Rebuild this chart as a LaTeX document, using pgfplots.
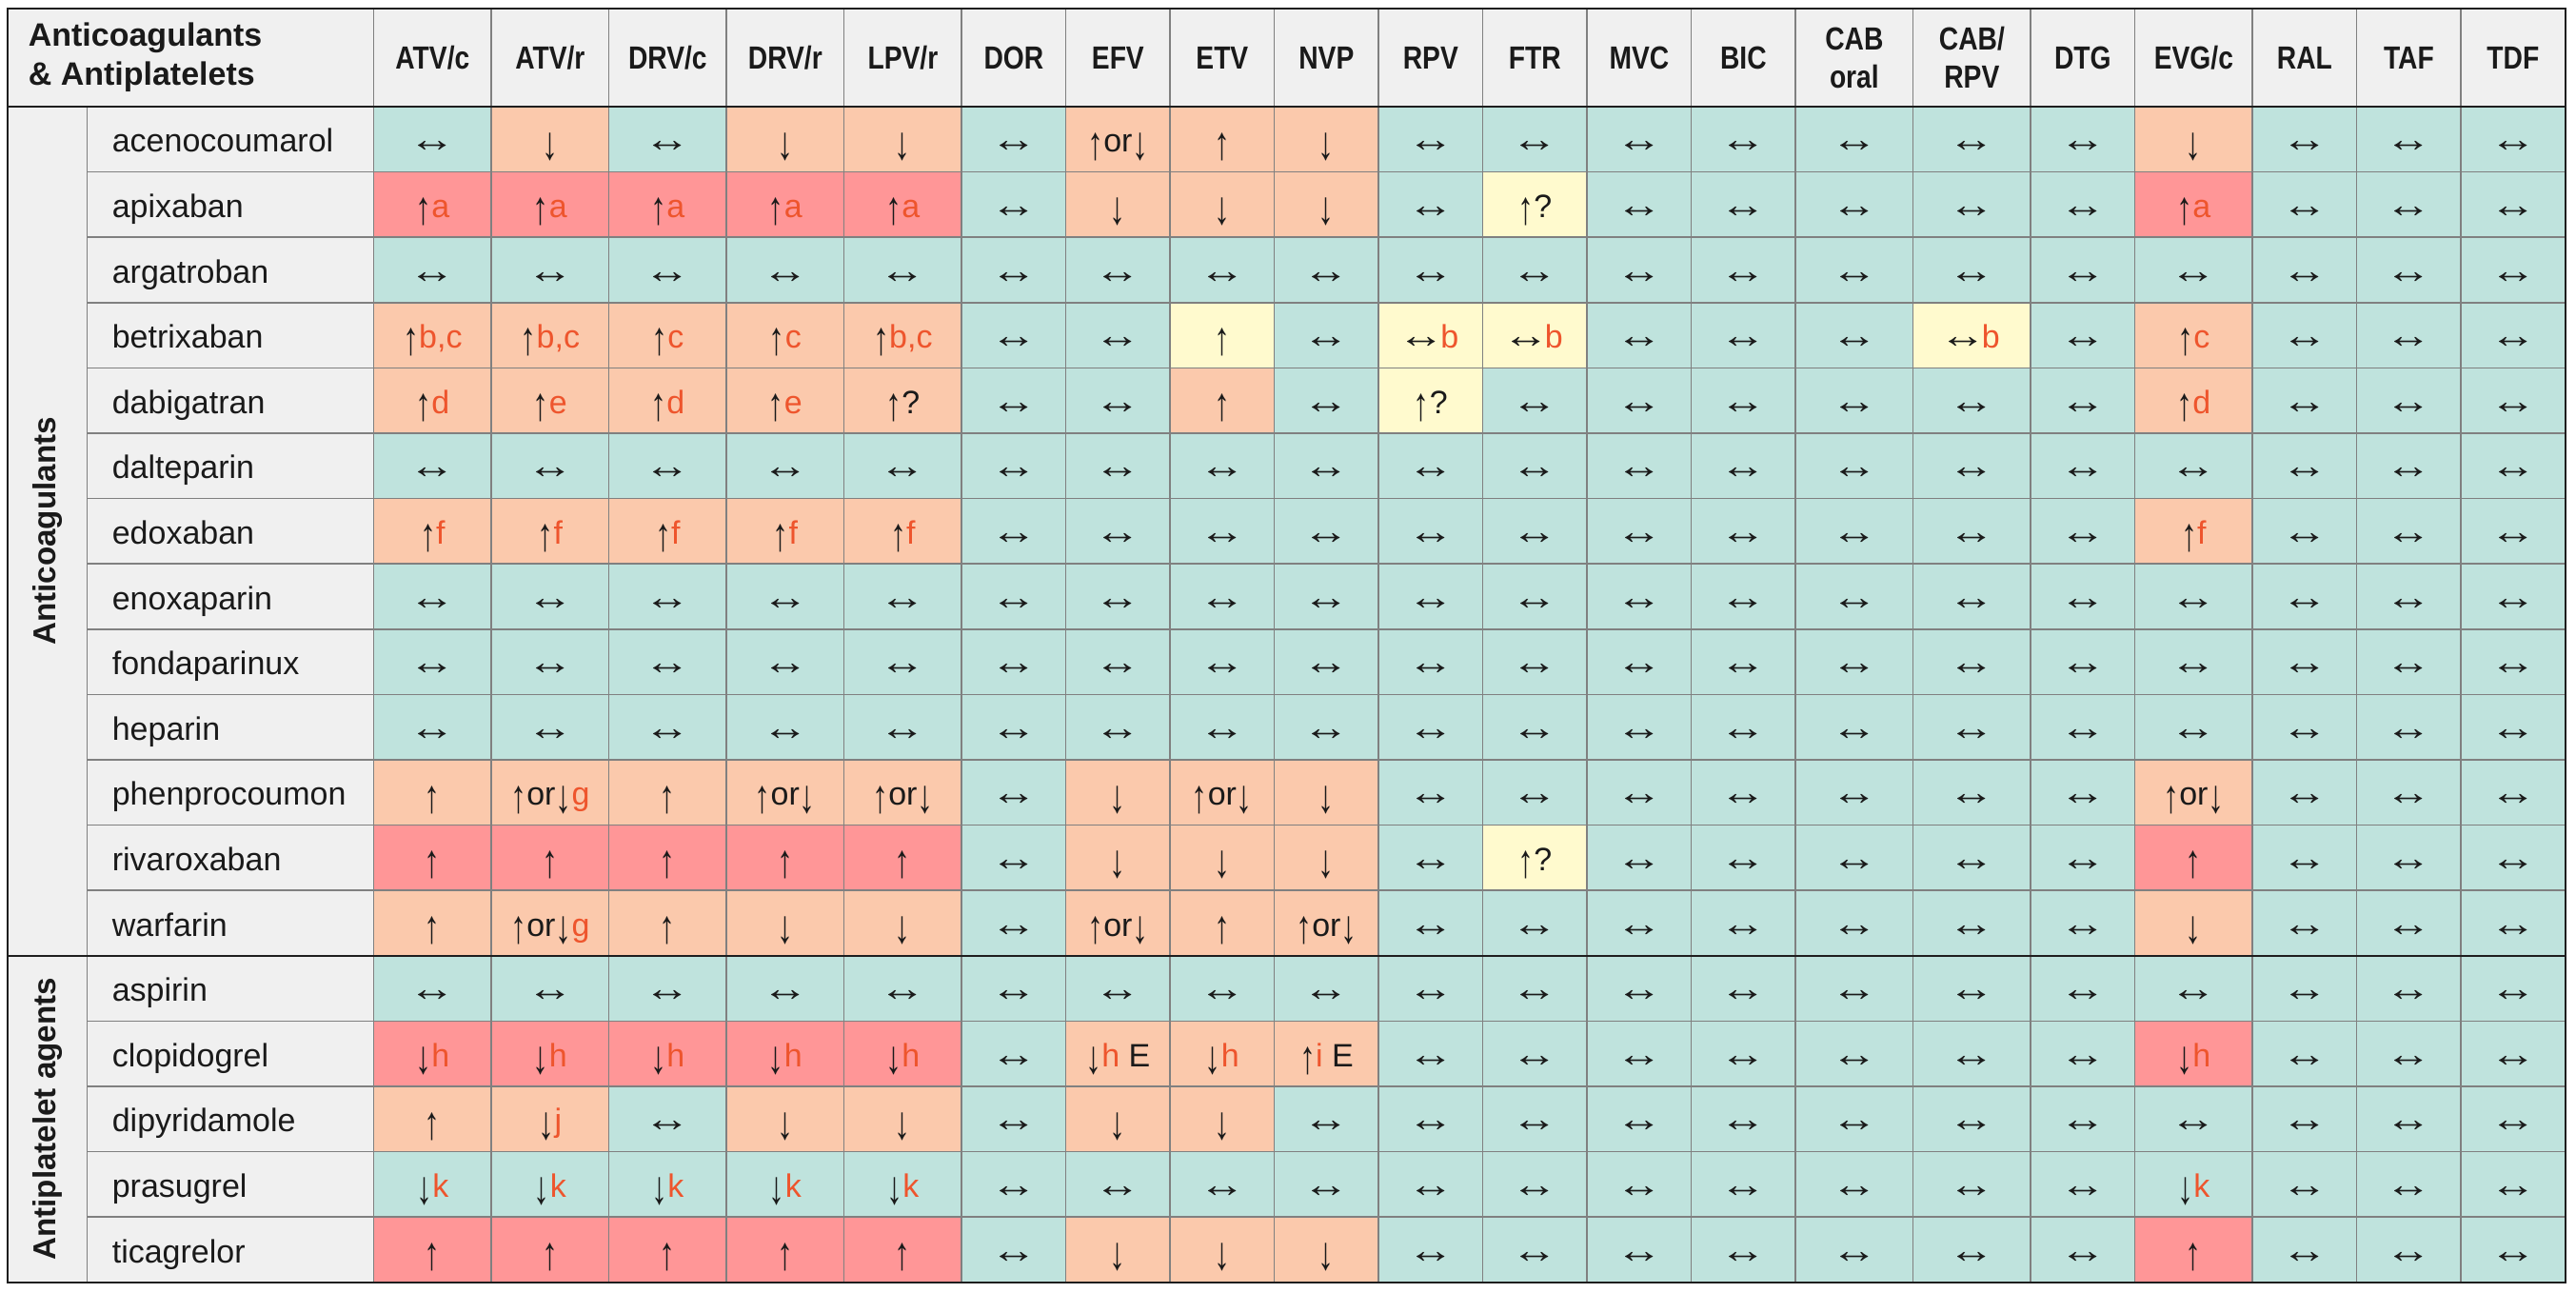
\documentclass[border=0pt]{standalone}
\usepackage{fontspec}
\setmainfont{Liberation Sans}
\newfontfamily\narrowbf{Liberation Sans}[FakeStretch=0.84]
\usepackage{graphicx}
\usepackage{pgfplots}
\usepackage{pgfplotstable}
\pgfplotsset{compat=1.18}

\definecolor{hdr}{RGB}{240,240,240}
\definecolor{gridc}{RGB}{128,128,128}
\definecolor{frame}{RGB}{30,30,30}
\definecolor{txtc}{RGB}{26,26,26}
\definecolor{noteRed}{RGB}{238,85,45}

\protected\def\aLR{\kern-0.14em\scalebox{1.45}[1.15]{↔}\kern-0.14em}
\protected\def\aUp{\raisebox{-0.21em}{\scalebox{1}[1.45]{↑}}}
\protected\def\aDn{\raisebox{-0.21em}{\scalebox{1}[1.45]{↓}}}
\protected\def\aUD{\aUp or\aDn}
\protected\def\rd#1{\textcolor{noteRed}{#1}}
\newcommand\cellfont{\fontsize{8.5}{10}\selectfont}

% cell colour: 0 no interaction, 1 potential, 2 do not coadminister, 3 weak
\pgfplotstableread{
name c0 c1 c2 c3 c4 c5 c6 c7 c8 c9 c10 c11 c12 c13 c14 c15 c16 c17 c18 c19
acenocoumarol 0 1 0 1 1 0 1 1 1 0 0 0 0 0 0 0 1 0 0 0
apixaban      2 2 2 2 2 0 1 1 1 0 3 0 0 0 0 0 2 0 0 0
argatroban    0 0 0 0 0 0 0 0 0 0 0 0 0 0 0 0 0 0 0 0
betrixaban    1 1 1 1 1 0 0 3 0 3 3 0 0 0 3 0 1 0 0 0
dabigatran    1 1 1 1 1 0 0 1 0 3 0 0 0 0 0 0 1 0 0 0
dalteparin    0 0 0 0 0 0 0 0 0 0 0 0 0 0 0 0 0 0 0 0
edoxaban      1 1 1 1 1 0 0 0 0 0 0 0 0 0 0 0 1 0 0 0
enoxaparin    0 0 0 0 0 0 0 0 0 0 0 0 0 0 0 0 0 0 0 0
fondaparinux  0 0 0 0 0 0 0 0 0 0 0 0 0 0 0 0 0 0 0 0
heparin       0 0 0 0 0 0 0 0 0 0 0 0 0 0 0 0 0 0 0 0
phenprocoumon 1 1 1 1 1 0 1 1 1 0 0 0 0 0 0 0 1 0 0 0
rivaroxaban   2 2 2 2 2 0 1 1 1 0 3 0 0 0 0 0 2 0 0 0
warfarin      1 1 1 1 1 0 1 1 1 0 0 0 0 0 0 0 1 0 0 0
aspirin       0 0 0 0 0 0 0 0 0 0 0 0 0 0 0 0 0 0 0 0
clopidogrel   2 2 2 2 2 0 1 1 1 0 0 0 0 0 0 0 2 0 0 0
dipyridamole  1 1 0 1 1 0 1 1 0 0 0 0 0 0 0 0 0 0 0 0
prasugrel     0 0 0 0 0 0 0 0 0 0 0 0 0 0 0 0 0 0 0 0
ticagrelor    2 2 2 2 2 0 1 1 1 0 0 0 0 0 0 0 2 0 0 0
}\cellcode

\pgfplotstableread[col sep=semicolon]{
t0;t1;t2;t3;t4;t5;t6;t7;t8;t9;t10;t11;t12;t13;t14;t15;t16;t17;t18;t19
\aLR;\aDn;\aLR;\aDn;\aDn;\aLR;\aUD;\aUp;\aDn;\aLR;\aLR;\aLR;\aLR;\aLR;\aLR;\aLR;\aDn;\aLR;\aLR;\aLR
\aUp\rd{a};\aUp\rd{a};\aUp\rd{a};\aUp\rd{a};\aUp\rd{a};\aLR;\aDn;\aDn;\aDn;\aLR;\aUp?;\aLR;\aLR;\aLR;\aLR;\aLR;\aUp\rd{a};\aLR;\aLR;\aLR
\aLR;\aLR;\aLR;\aLR;\aLR;\aLR;\aLR;\aLR;\aLR;\aLR;\aLR;\aLR;\aLR;\aLR;\aLR;\aLR;\aLR;\aLR;\aLR;\aLR
\aUp\rd{b,c};\aUp\rd{b,c};\aUp\rd{c};\aUp\rd{c};\aUp\rd{b,c};\aLR;\aLR;\aUp;\aLR;\aLR\rd{b};\aLR\rd{b};\aLR;\aLR;\aLR;\aLR\rd{b};\aLR;\aUp\rd{c};\aLR;\aLR;\aLR
\aUp\rd{d};\aUp\rd{e};\aUp\rd{d};\aUp\rd{e};\aUp?;\aLR;\aLR;\aUp;\aLR;\aUp?;\aLR;\aLR;\aLR;\aLR;\aLR;\aLR;\aUp\rd{d};\aLR;\aLR;\aLR
\aLR;\aLR;\aLR;\aLR;\aLR;\aLR;\aLR;\aLR;\aLR;\aLR;\aLR;\aLR;\aLR;\aLR;\aLR;\aLR;\aLR;\aLR;\aLR;\aLR
\aUp\rd{f};\aUp\rd{f};\aUp\rd{f};\aUp\rd{f};\aUp\rd{f};\aLR;\aLR;\aLR;\aLR;\aLR;\aLR;\aLR;\aLR;\aLR;\aLR;\aLR;\aUp\rd{f};\aLR;\aLR;\aLR
\aLR;\aLR;\aLR;\aLR;\aLR;\aLR;\aLR;\aLR;\aLR;\aLR;\aLR;\aLR;\aLR;\aLR;\aLR;\aLR;\aLR;\aLR;\aLR;\aLR
\aLR;\aLR;\aLR;\aLR;\aLR;\aLR;\aLR;\aLR;\aLR;\aLR;\aLR;\aLR;\aLR;\aLR;\aLR;\aLR;\aLR;\aLR;\aLR;\aLR
\aLR;\aLR;\aLR;\aLR;\aLR;\aLR;\aLR;\aLR;\aLR;\aLR;\aLR;\aLR;\aLR;\aLR;\aLR;\aLR;\aLR;\aLR;\aLR;\aLR
\aUp;\aUD\rd{g};\aUp;\aUD;\aUD;\aLR;\aDn;\aUD;\aDn;\aLR;\aLR;\aLR;\aLR;\aLR;\aLR;\aLR;\aUD;\aLR;\aLR;\aLR
\aUp;\aUp;\aUp;\aUp;\aUp;\aLR;\aDn;\aDn;\aDn;\aLR;\aUp?;\aLR;\aLR;\aLR;\aLR;\aLR;\aUp;\aLR;\aLR;\aLR
\aUp;\aUD\rd{g};\aUp;\aDn;\aDn;\aLR;\aUD;\aUp;\aUD;\aLR;\aLR;\aLR;\aLR;\aLR;\aLR;\aLR;\aDn;\aLR;\aLR;\aLR
\aLR;\aLR;\aLR;\aLR;\aLR;\aLR;\aLR;\aLR;\aLR;\aLR;\aLR;\aLR;\aLR;\aLR;\aLR;\aLR;\aLR;\aLR;\aLR;\aLR
\aDn\rd{h};\aDn\rd{h};\aDn\rd{h};\aDn\rd{h};\aDn\rd{h};\aLR;\aDn\rd{h} E;\aDn\rd{h};\aUp\rd{i} E;\aLR;\aLR;\aLR;\aLR;\aLR;\aLR;\aLR;\aDn\rd{h};\aLR;\aLR;\aLR
\aUp;\aDn\rd{j};\aLR;\aDn;\aDn;\aLR;\aDn;\aDn;\aLR;\aLR;\aLR;\aLR;\aLR;\aLR;\aLR;\aLR;\aLR;\aLR;\aLR;\aLR
\aDn\rd{k};\aDn\rd{k};\aDn\rd{k};\aDn\rd{k};\aDn\rd{k};\aLR;\aLR;\aLR;\aLR;\aLR;\aLR;\aLR;\aLR;\aLR;\aLR;\aLR;\aDn\rd{k};\aLR;\aLR;\aLR
\aUp;\aUp;\aUp;\aUp;\aUp;\aLR;\aDn;\aDn;\aDn;\aLR;\aLR;\aLR;\aLR;\aLR;\aLR;\aLR;\aUp;\aLR;\aLR;\aLR
}\celltext

% column centres (pixels of the reference)
\newcommand\colx[1]{\ifcase#1 454.35\or 577.85\or 701.35\or 824.85\or 948.35\or 1064.85\or 1174.35\or 1283.85\or 1393.35\or 1502.85\or 1612.35\or 1721.85\or 1831.35\or 1947.85\or 2071.35\or 2187.85\or 2304.35\or 2420.85\or 2530.35\or 2639.85\fi}

\begin{document}
\begin{tikzpicture}
\begin{axis}[
    width=676.5pt,height=339.5pt,scale only axis,
    xmin=0,xmax=2706,ymin=0,ymax=1358,y dir=reverse,
    enlargelimits=false,axis lines=none,xtick=\empty,ytick=\empty,
    clip=false,set layers,
    colormap={cells}{rgb255(0)=(191,227,221) rgb255(1)=(251,201,172) rgb255(2)=(255,150,151) rgb255(3)=(255,250,206)},
    point meta min=0,point meta max=3,
    cellbox/.style={scatter,only marks,mark=square*,mark size=8.575pt,
        scatter/use mapped color={draw=mapped color,fill=mapped color}},
    celltxt/.style={only marks,mark=none,point meta=explicit symbolic,
        nodes near coords={\pgfplotspointmeta},
        every node near coord/.append style={anchor=base,yshift=-3.4pt,inner sep=0pt,font=\cellfont,text=txtc}},
]
\draw[draw=none] (axis cs:0,0) rectangle (axis cs:2706,1358);
\begin{pgfonlayer}{axis background}
\fill[hdr] (axis cs:8,9) rectangle (axis cs:2695,112);
\fill[hdr] (axis cs:8,112) rectangle (axis cs:392.6,1346.8);
\end{pgfonlayer}

% wide columns
\pgfplotsinvokeforeach{0,1,2,3,4,13,14,16}{
\addplot[cellbox,mark options={xscale=1.8003},point meta=\thisrow{c#1}]
    table[x expr={\colx{#1}},y expr={112+(\coordindex+0.5)*68.6}] {\cellcode};
}
% narrow columns
\pgfplotsinvokeforeach{5,6,7,8,9,10,11,12,15,17,18,19}{
\addplot[cellbox,mark options={xscale=1.5962},point meta=\thisrow{c#1}]
    table[x expr={\colx{#1}},y expr={112+(\coordindex+0.5)*68.6}] {\cellcode};
}
\pgfplotsinvokeforeach{0,...,19}{
\addplot[celltxt] table[x expr={\colx{#1}},y expr={112+(\coordindex+0.5)*68.6},meta=t#1] {\celltext};
}
% drug names
\addplot[celltxt,every node near coord/.append style={anchor=base west}]
    table[x expr=117,y expr={112+(\coordindex+0.5)*68.6},meta=name] {\cellcode};
% header
\node[anchor=west,align=left,inner sep=0pt,text=txtc,font=\bfseries\fontsize{8.5}{10.3}\selectfont]
    at (axis cs:29,60.5) {Anticoagulants\\\& Antiplatelets};
\tikzset{hd/.style={text=txtc,align=center,font=\narrowbf\bfseries\fontsize{8.4}{10}\selectfont}}
\node[hd] at (axis cs:454.35,60.5) {ATV/c};
\node[hd] at (axis cs:577.85,60.5) {ATV/r};
\node[hd] at (axis cs:701.35,60.5) {DRV/c};
\node[hd] at (axis cs:824.85,60.5) {DRV/r};
\node[hd] at (axis cs:948.35,60.5) {LPV/r};
\node[hd] at (axis cs:1064.85,60.5) {DOR};
\node[hd] at (axis cs:1174.35,60.5) {EFV};
\node[hd] at (axis cs:1283.85,60.5) {ETV};
\node[hd] at (axis cs:1393.35,60.5) {NVP};
\node[hd] at (axis cs:1502.85,60.5) {RPV};
\node[hd] at (axis cs:1612.35,60.5) {FTR};
\node[hd] at (axis cs:1721.85,60.5) {MVC};
\node[hd] at (axis cs:1831.35,60.5) {BIC};
\node[hd] at (axis cs:1947.85,60.5) {CAB\\oral};
\node[hd] at (axis cs:2071.35,60.5) {CAB/\\RPV};
\node[hd] at (axis cs:2187.85,60.5) {DTG};
\node[hd] at (axis cs:2304.35,60.5) {EVG/c};
\node[hd] at (axis cs:2420.85,60.5) {RAL};
\node[hd] at (axis cs:2530.35,60.5) {TAF};
\node[hd] at (axis cs:2639.85,60.5) {TDF};
\node[rotate=90,text=txtc,font=\bfseries\fontsize{8.3}{10}\selectfont] at (axis cs:50,557.9) {Anticoagulants};
\node[rotate=90,text=txtc,font=\bfseries\fontsize{8.3}{10}\selectfont] at (axis cs:50,1175.3) {Antiplatelet agents};
\begin{pgfonlayer}{axis foreground}
\pgfplotsinvokeforeach{392.6,516.1,639.6,763.1,886.6,1010.1,1119.6,1229.1,1338.6,1448.1,1557.6,1667.1,1776.6,1886.1,2009.6,2133.1,2242.6,2366.1,2475.6,2585.1}{
\draw[gridc,line width=0.4pt] (axis cs:#1,9) -- (axis cs:#1,1346.8);
}
\draw[gridc,line width=0.4pt] (axis cs:91.5,112) -- (axis cs:91.5,1346.8);
\pgfplotsinvokeforeach{180.6,249.2,317.8,386.4,455.0,523.6,592.2,660.8,729.4,798.0,866.6,935.2,1072.4,1141.0,1209.6,1278.2}{
\draw[gridc,line width=0.4pt] (axis cs:91.5,#1) -- (axis cs:2695,#1);
}
\draw[frame,line width=0.6pt] (axis cs:8,112) -- (axis cs:2695,112);
\draw[frame,line width=0.6pt] (axis cs:8,1003.8) -- (axis cs:2695,1003.8);
\draw[frame,line width=0.6pt] (axis cs:8,9) rectangle (axis cs:2695,1346.8);
\end{pgfonlayer}
\end{axis}
\end{tikzpicture}
\end{document}
